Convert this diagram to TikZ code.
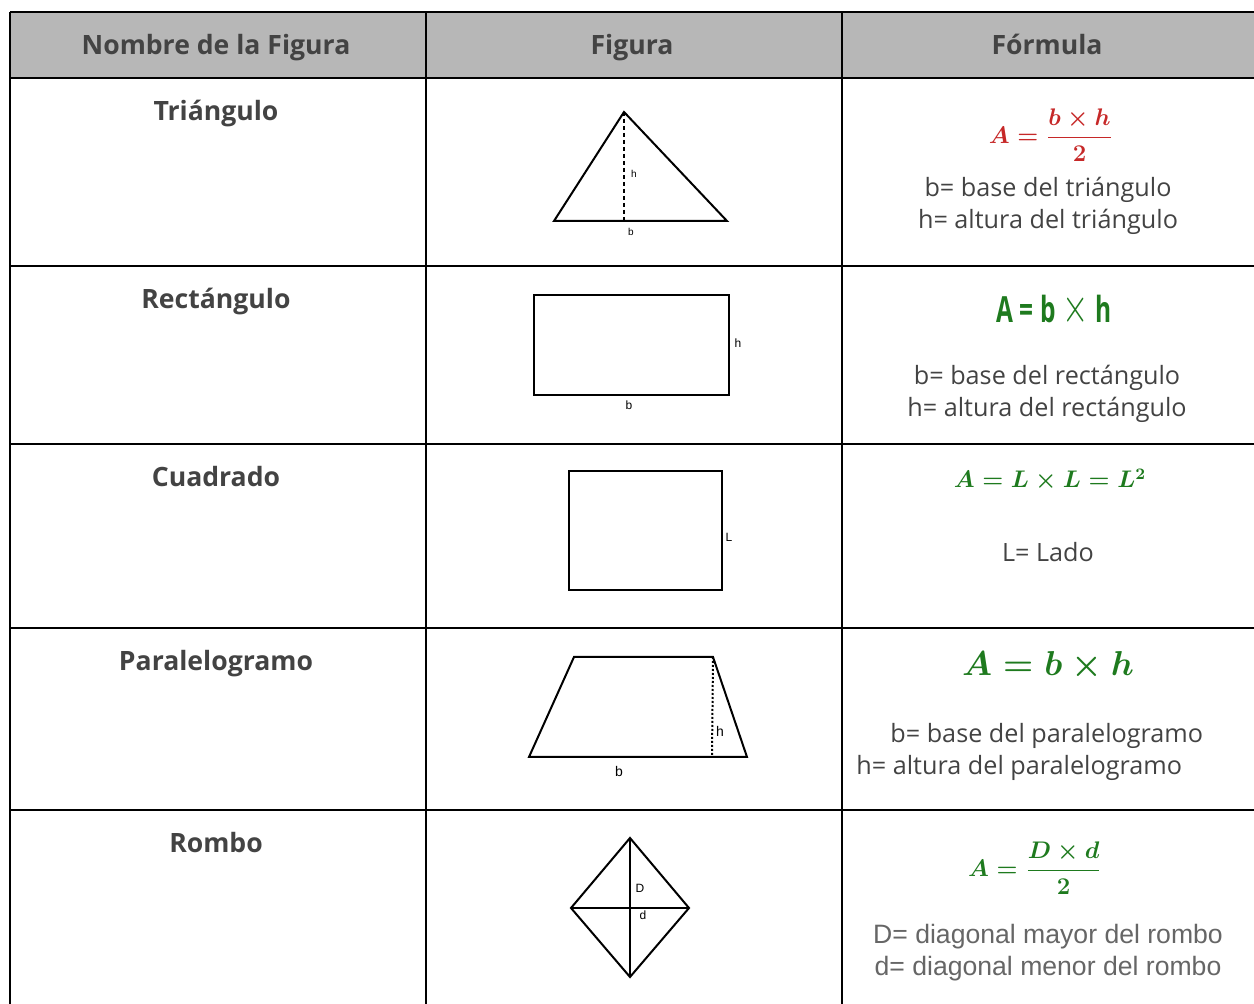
\documentclass[tikz,border=0pt]{standalone}
\usepackage[no-math]{fontspec}
\setmainfont{Open Sans}
\newfontfamily\arialfont{Liberation Sans}
\usepackage{xcolor}
\definecolor{hdrgray}{HTML}{B7B7B7}
\definecolor{txtgray}{HTML}{434343}
\definecolor{softgray}{HTML}{666666}
\definecolor{formred}{HTML}{C62828}
\definecolor{formgreen}{HTML}{1E7A1E}
\newcommand{\triformula}{\mbox{\mathversion{bold}$\displaystyle A=\frac{b\times h}{2}$}}
\newcommand{\sqformula}{\mbox{\mathversion{bold}$A=L\times L=L^2$}}
\newcommand{\parformula}{\mbox{\mathversion{bold}$A=b\times h$}}
\newcommand{\romformula}{\mbox{\mathversion{bold}$\displaystyle A=\frac{D\times d}{2}$}}

\begin{document}
\begin{tikzpicture}[x=0.5pt,y=-0.5pt,
    tbl/.style={line width=1pt,black},
    shp/.style={line width=1pt,black,line join=miter},
    hdr/.style={font=\fontsize{13.3}{15}\selectfont\bfseries,text=txtgray,inner sep=0pt,anchor=base},
    desc/.style={font=\fontsize{12.6}{14}\selectfont,text=txtgray,inner sep=0pt},
    lbl/.style={font=\arialfont\fontsize{6}{7}\selectfont,inner sep=0pt},
    frm/.style={text=formgreen,inner sep=0pt}]
   \useasboundingbox (0,0) rectangle (1254,1004);

   % table
   \fill[hdrgray] (10,12) rectangle (1254,78);
   \draw[tbl] (10,12) -- (1254,12);
   \foreach \y in {78,266,444,628,810}
     \draw[tbl] (10,\y) -- (1254,\y);
   \foreach \x in {10,426,842}
     \draw[tbl] (\x,12) -- (\x,1004);

   \draw (216,55) node[hdr] (hname) {Nombre de la Figura};
   \draw (632,55) node[hdr] (hfig) {Figura};
   \draw (1047,55) node[hdr] (hform) {Fórmula};

   \draw (216,121) node[hdr] (ntri) {Triángulo};
   \draw (216,309) node[hdr] (nrect) {Rectángulo};
   \draw (216,487) node[hdr] (nsq) {Cuadrado};
   \draw (216,671) node[hdr] (npar) {Paralelogramo};
   \draw (216,853) node[hdr] (nrom) {Rombo};

   % triangle
   \coordinate (tritop) at (624,112);
   \coordinate (trileft) at (554,221);
   \coordinate (triright) at (727,221);
   \coordinate (trifoot) at (624,221);
   \draw[shp] (trileft) -- (tritop) -- (triright) -- cycle;
   \draw[line width=1pt,dash pattern=on 2pt off 1.5pt] (tritop) -- (trifoot);
   \draw (634,174) node[lbl,font=\arialfont\fontsize{5}{6}\selectfont] (trih) {h};
   \draw (631,232) node[lbl,font=\arialfont\fontsize{5}{6}\selectfont] (trib) {b};

   % rectangle
   \draw[shp] (534,295) rectangle (729,395);
   \draw (738,343) node[lbl] (recth) {h};
   \draw (629,405) node[lbl] (rectb) {b};

   % square
   \draw[shp] (569,471) rectangle (722,590);
   \draw (729,537) node[lbl] (sqL) {L};

   % parallelogram
   \coordinate (parbl) at (529,757);
   \coordinate (parbr) at (747,757);
   \coordinate (partr) at (713,657);
   \coordinate (partl) at (574,657);
   \coordinate (parfoot) at (712,757);
   \draw[shp] (parbl) -- (parbr) -- (partr) -- (partl) -- cycle;
   \draw[line width=1pt,dash pattern=on 1pt off 1pt] (partr) -- (parfoot);
   \draw (720,731) node[lbl,font=\arialfont\fontsize{7}{8}\selectfont] (parh) {h};
   \draw (619,771) node[lbl,font=\arialfont\fontsize{7}{8}\selectfont] (parb) {b};

   % rhombus
   \coordinate (romt) at (630,838);
   \coordinate (roml) at (571,908);
   \coordinate (romr) at (689,908);
   \coordinate (romb) at (630,977);
   \draw[shp] (romt) -- (romr) -- (romb) -- (roml) -- cycle;
   \draw[shp] (romt) -- (romb);
   \draw[shp] (roml) -- (romr);
   \draw (640,888) node[lbl] (romD) {D};
   \draw (643,915) node[lbl] (romd) {d};

   % formulas
   \draw (1051,135) node[frm,text=formred,font=\fontsize{11.5}{13}\selectfont] (ftri) {\triformula};
   \draw (1048,190) node[desc] (dtri1) {b= base del triángulo};
   \draw (1048,222) node[desc] (dtri2) {h= altura del triángulo};

   \draw (1054,310) node[frm,font=\fontsize{18}{20}\selectfont\bfseries] (frect) {\scalebox{0.68}[1]{A\;=\;b\;{\fontsize{24}{24}\selectfont$\times$}\;h}};
   \draw (1047,378) node[desc] (drect1) {b= base del rectángulo};
   \draw (1047,410) node[desc] (drect2) {h= altura del rectángulo};

   \draw (1050,480) node[frm,font=\fontsize{12}{14}\selectfont] (fsq) {\sqformula};
   \draw (1048,552) node[desc] (dsq) {L= Lado};

   \draw (1048,666) node[frm,font=\fontsize{16.2}{18}\selectfont] (fpar) {\parformula};
   \draw (890,736) node[desc,anchor=west] (dpar1) {b= base del paralelogramo};
   \draw (856,768) node[desc,anchor=west] (dpar2) {h= altura del paralelogramo};

   \draw (1035,868) node[frm,font=\fontsize{12}{14}\selectfont] (fromb) {\romformula};
   \draw (1048,937) node[desc,text=softgray,font=\arialfont\fontsize{13.3}{15}\selectfont] (drom1) {D= diagonal mayor del rombo};
   \draw (1048,969) node[desc,text=softgray,font=\arialfont\fontsize{13.3}{15}\selectfont] (drom2) {d= diagonal menor del rombo};

\end{tikzpicture}
\end{document}
